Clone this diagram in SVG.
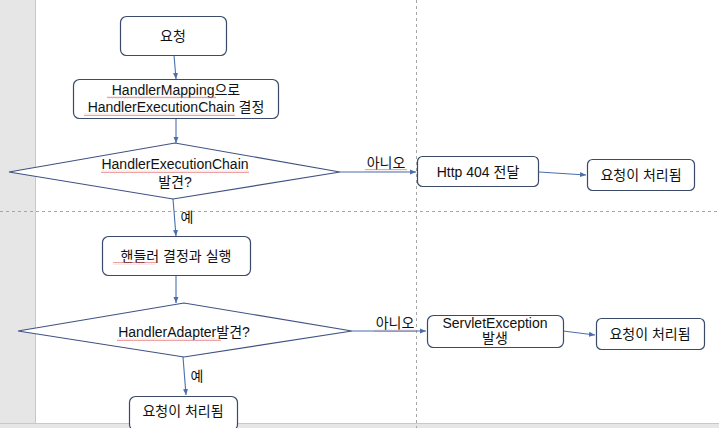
<svg xmlns="http://www.w3.org/2000/svg" width="719" height="428" viewBox="0 0 719 428">
<style>
.bg{fill:#ffffff}
.strip{fill:#e6e6e6}
.box{fill:#ffffff;stroke:#3b4a68;stroke-width:1.2}
.dia{fill:#ffffff;stroke:#3f5283;stroke-width:1.2}
.con{fill:none;stroke:#4a6eae;stroke-width:1.1}
.guide{fill:none;stroke:#a6a6a6;stroke-width:1;stroke-dasharray:3 3}
.t{font-family:"Liberation Sans","Noto Sans CJK KR",Arial,sans-serif;font-size:14px;fill:#111111;text-anchor:middle}
.sq{fill:url(#squig)}
</style>
<defs>
<marker id="ah" viewBox="0 0 6 6" refX="6" refY="3" markerWidth="6" markerHeight="6" markerUnits="userSpaceOnUse" orient="auto">
<path d="M0,0.5 L6,3 L0,5.5 Z" fill="#4a6eae"/>
</marker>
<pattern id="squig" width="3" height="3" patternUnits="userSpaceOnUse">
<path d="M0,2.2 L0.75,0.8 L1.5,2.2 L2.25,0.8 L3,2.2" fill="none" stroke="#e06a6a" stroke-width="0.6"/>
</pattern>
</defs>
<rect class="bg" x="0" y="0" width="719" height="428"/>
<rect class="strip" x="0" y="0" width="35" height="428"/>
<line x1="35.5" y1="0" x2="35.5" y2="428" stroke="#c8c8c8" stroke-width="1"/>
<rect class="strip" x="0" y="424" width="719" height="4"/>
<line x1="0" y1="423.5" x2="719" y2="423.5" stroke="#c8c8c8" stroke-width="1"/>
<g id="guides">
<line class="guide" x1="416.5" y1="0" x2="416.5" y2="428"/>
<line class="guide" x1="0" y1="211.5" x2="719" y2="211.5"/>
</g>
<g id="connectors">
<line class="con" x1="174" y1="55" x2="176" y2="79" marker-end="url(#ah)"/>
<line class="con" x1="176" y1="118" x2="176" y2="143" marker-end="url(#ah)"/>
<line class="con" x1="340" y1="172" x2="416" y2="172" marker-end="url(#ah)"/>
<line class="con" x1="539" y1="172" x2="586" y2="175" marker-end="url(#ah)"/>
<line class="con" x1="173" y1="199" x2="176" y2="236" marker-end="url(#ah)"/>
<line class="con" x1="176" y1="275" x2="176" y2="303" marker-end="url(#ah)"/>
<line class="con" x1="352" y1="331" x2="426" y2="331" marker-end="url(#ah)"/>
<line class="con" x1="563" y1="331" x2="595" y2="335" marker-end="url(#ah)"/>
<line class="con" x1="183" y1="357" x2="186" y2="395" marker-end="url(#ah)"/>
<text class="t" x="386" y="168">아니오</text>
<rect class="sq" x="365" y="169" width="42" height="3"/>
<text class="t" x="187" y="222">예</text>
<text class="t" x="395" y="328">아니오</text>
<rect class="sq" x="374" y="329" width="42" height="3"/>
<text class="t" x="197" y="381">예</text>
</g>
<g id="n_request">
<rect class="box" x="120.5" y="16.5" width="106" height="39" rx="6"/>
<text class="t" x="173" y="41">요청</text>
</g>
<g id="n_mapping">
<rect class="box" x="73.5" y="79.5" width="205" height="39" rx="6"/>
<text class="t" x="176" y="95">HandlerMapping으로</text>
<text class="t" x="176" y="112">HandlerExecutionChain 결정</text>
<rect class="sq" x="107" y="96" width="109" height="3"/>
<rect class="sq" x="84" y="113" width="151" height="3"/>
</g>
<g id="n_found_chain">
<polygon class="dia" points="9,172 175,143 340,172 173,199"/>
<text class="t" x="175" y="169">HandlerExecutionChain</text>
<text class="t" x="175" y="187">발견?</text>
<rect class="sq" x="101" y="170" width="148" height="3"/>
</g>
<g id="n_http404">
<rect class="box" x="417.5" y="156.5" width="121" height="30" rx="5"/>
<text class="t" x="478" y="177">Http 404 전달</text>
</g>
<g id="n_done1">
<rect class="box" x="587.5" y="159.5" width="107" height="31" rx="5"/>
<text class="t" x="641" y="180">요청이 처리됨</text>
</g>
<g id="n_handler">
<rect class="box" x="102.5" y="236.5" width="148" height="39" rx="6"/>
<text class="t" x="176" y="261">핸들러 결정과 실행</text>
<rect class="sq" x="113" y="262" width="43" height="3"/>
</g>
<g id="n_found_adapter">
<polygon class="dia" points="18,331 184,303 352,331 184,357"/>
<text class="t" x="184" y="337">HandlerAdapter발견?</text>
<rect class="sq" x="117" y="338" width="104" height="3"/>
</g>
<g id="n_servlet_ex">
<rect class="box" x="427.5" y="315.5" width="136" height="32" rx="6"/>
<text class="t" x="495" y="328">ServletException</text>
<text class="t" x="495" y="343">발생</text>
</g>
<g id="n_done2">
<rect class="box" x="596.5" y="318.5" width="108" height="31" rx="5"/>
<text class="t" x="650" y="339">요청이 처리됨</text>
</g>
<g id="n_done3">
<rect class="box" x="129.5" y="396.5" width="108" height="34" rx="6"/>
<text class="t" x="183" y="416">요청이 처리됨</text>
</g>
</svg>
